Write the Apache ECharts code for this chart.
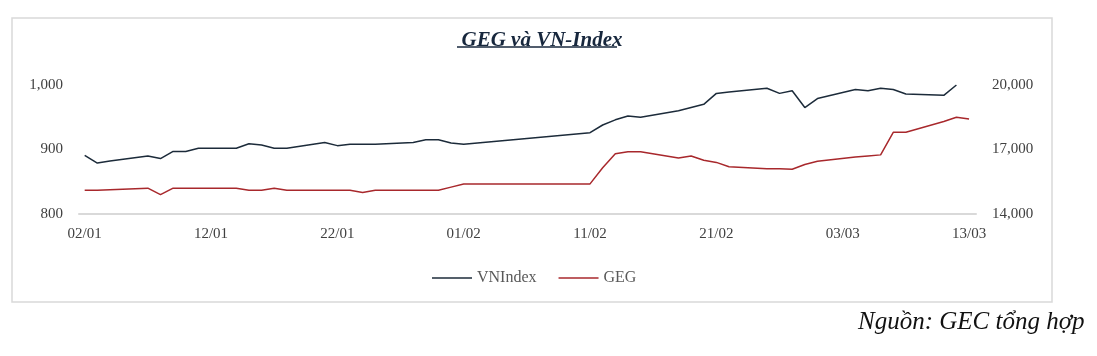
<!DOCTYPE html>
<html>
<head>
<meta charset="utf-8">
<script src="https://cdn.jsdelivr.net/npm/echarts@6/dist/echarts.min.js"></script>
<style>
html,body{margin:0;padding:0;background:#fff;}
#chart{width:1097px;height:356px;}
</style>
</head>
<body>
<div id="chart"></div>
<script>
// Trading dates (2019)
var dates = [
  '2019-01-02','2019-01-03','2019-01-04','2019-01-07','2019-01-08','2019-01-09','2019-01-10','2019-01-11',
  '2019-01-14','2019-01-15','2019-01-16','2019-01-17','2019-01-18',
  '2019-01-21','2019-01-22','2019-01-23','2019-01-24','2019-01-25',
  '2019-01-28','2019-01-29','2019-01-30','2019-01-31','2019-02-01',
  '2019-02-11','2019-02-12','2019-02-13','2019-02-14','2019-02-15',
  '2019-02-18','2019-02-19','2019-02-20','2019-02-21','2019-02-22',
  '2019-02-25','2019-02-26','2019-02-27','2019-02-28','2019-03-01',
  '2019-03-04','2019-03-05','2019-03-06','2019-03-07','2019-03-08',
  '2019-03-11','2019-03-12','2019-03-13'
];
var vnIndex = [
  891, 879, 882, 890, 886, 897, 897, 902,
  902, 909, 907, 902, 902,
  911, 906, 908, 908, 908,
  911, 915, 915, 910, 908,
  926, 938, 946, 952, 950,
  960, 965, 970, 987, 989,
  995, 987, 991, 965, 979,
  993, 991, 995, 993, 986,
  984, 1000, null
];
var geg = [
  15100, 15100, 15130, 15200, 14900, 15200, 15200, 15200,
  15200, 15100, 15100, 15200, 15100,
  15100, 15100, 15100, 15000, 15100,
  15100, 15100, 15100, 15250, 15400,
  15400, 16150, 16800, 16900, 16900,
  16600, 16700, 16500, 16400, 16200,
  16100, 16100, 16080, 16300, 16450,
  16650, 16700, 16750, 17800, 17800,
  18300, 18500, 18420
];
var tickDates = ['2019-01-02','2019-01-12','2019-01-22','2019-02-01','2019-02-11','2019-02-21','2019-03-03','2019-03-13'];
var tickLabels = ['02/01','12/01','22/01','01/02','11/02','21/02','03/03','13/03'];
var leftTicks = [800, 900, 1000];
var rightTicks = [14000, 17000, 20000];

var DAY = 86400000;
var base = Date.UTC(2019, 0, 2);
function dayOf(s){ var p = s.split('-'); return (Date.UTC(+p[0], +p[1]-1, +p[2]) - base) / DAY; }
var xDays = dates.map(dayOf);
var tickDays = tickDates.map(dayOf);
var vnData = xDays.map(function(d,i){ return [d, vnIndex[i]]; }).filter(function(p){ return p[1] != null; });
var gegData = xDays.map(function(d,i){ return [d, geg[i]]; });

var serif = '"Liberation Serif", "DejaVu Serif", serif';
var chart = echarts.init(document.getElementById('chart'), null, {renderer:'canvas'});
chart.setOption({
  backgroundColor: '#ffffff',
  animation: false,
  title: {
    text: 'GEG và VN-Index',
    left: 537, top: 25, textAlign: 'center',
    textStyle: { fontFamily: serif, fontSize: 21, fontWeight: 'bold', fontStyle: 'italic', color: '#17273d' }
  },
  legend: {
    data: ['VNIndex', 'GEG'],
    left: 427, top: 265,
    icon: 'rect', itemWidth: 40, itemHeight: 1.5, itemGap: 22,
    textStyle: { fontFamily: serif, fontSize: 16, color: '#595959', padding: [0,0,0,0] }
  },
  grid: { left: 79, right: 121, top: 85, bottom: 142, containLabel: false },
  xAxis: {
    type: 'value', min: -0.45, max: 70.55,
    axisLine: { show: true, lineStyle: { color: '#d9d9d9', width: 2 } },
    axisTick: { show: false },
    splitLine: { show: false },
    axisLabel: {
      customValues: tickDays,
      formatter: function(v){ var i = tickDays.indexOf(v); return i >= 0 ? tickLabels[i] : ''; },
      fontFamily: serif, fontSize: 15, color: '#404040', margin: 13
    }
  },
  yAxis: [
    {
      type: 'value', min: 800, max: 1000,
      axisLine: { show: false }, axisTick: { show: false }, splitLine: { show: false },
      axisLabel: {
        customValues: leftTicks,
        formatter: function(v){ return v.toLocaleString('en-US'); },
        fontFamily: serif, fontSize: 15, color: '#404040', margin: 16
      }
    },
    {
      type: 'value', min: 14000, max: 20000, position: 'right',
      axisLine: { show: false }, axisTick: { show: false }, splitLine: { show: false },
      axisLabel: {
        customValues: rightTicks,
        formatter: function(v){ return v.toLocaleString('en-US'); },
        fontFamily: serif, fontSize: 15, color: '#404040', margin: 16
      }
    }
  ],
  series: [
    { name: 'VNIndex', type: 'line', yAxisIndex: 0, data: vnData, symbol: 'none', smooth: false,
      lineStyle: { color: '#1c2b3a', width: 1.5 }, itemStyle: { color: '#1c2b3a' } },
    { name: 'GEG', type: 'line', yAxisIndex: 1, data: gegData, symbol: 'none', smooth: false,
      lineStyle: { color: '#a8282c', width: 1.5 }, itemStyle: { color: '#a8282c' } }
  ],
  graphic: [
    { type: 'rect', shape: { x: 12, y: 18, width: 1040, height: 284 }, style: { fill: null, stroke: '#d9d9d9', lineWidth: 1.5 }, z: -1 },
    { type: 'line', shape: { x1: 457, y1: 47, x2: 617, y2: 47 }, style: { stroke: '#17273d', lineWidth: 1.5 } },
    { type: 'text', left: 858, top: 310, style: { text: 'Nguồn: GEC tổng hợp', font: 'italic 25px "Liberation Serif", serif', fill: '#111' } }
  ]
});
</script>
</body>
</html>
